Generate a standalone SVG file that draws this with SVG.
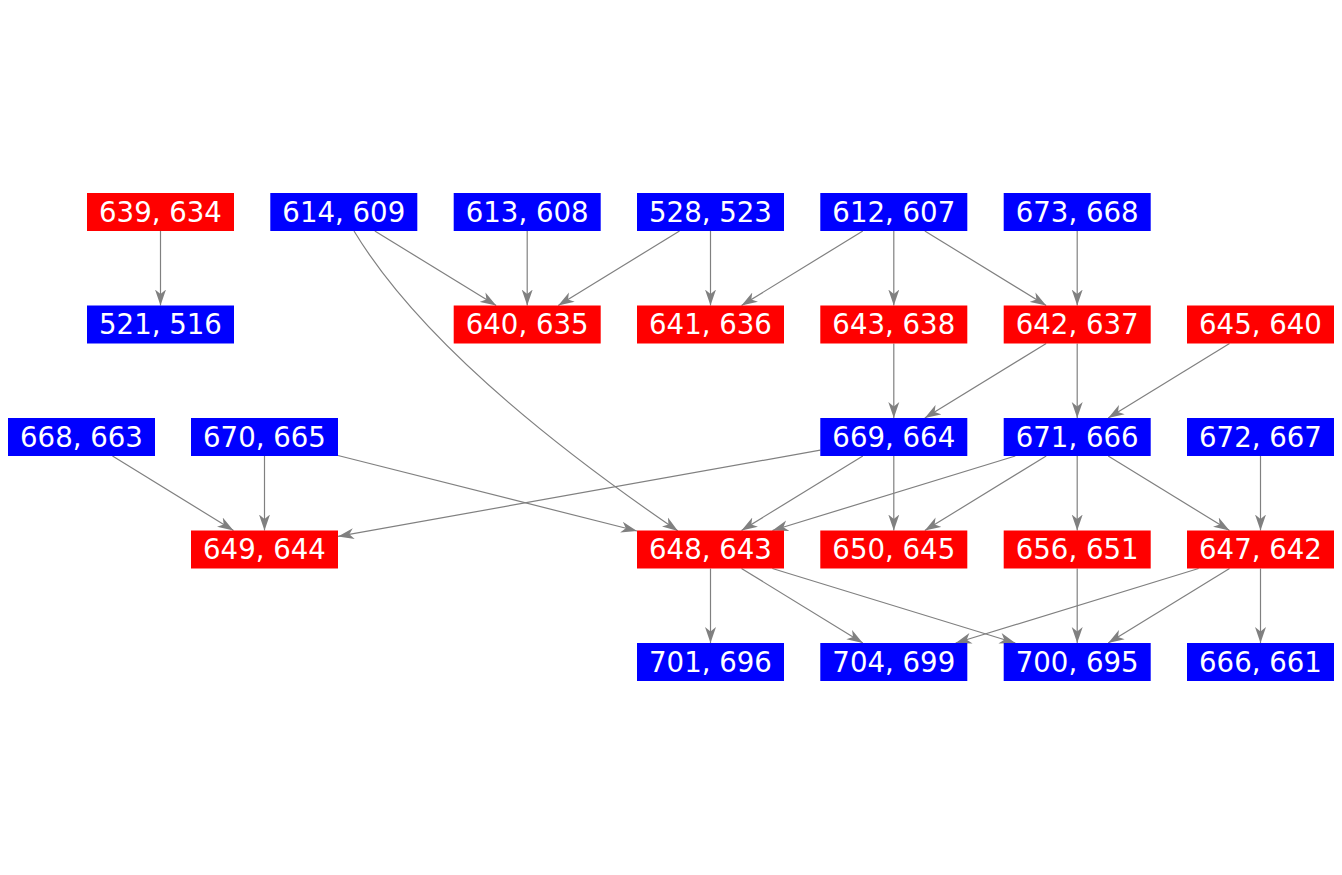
<svg xmlns="http://www.w3.org/2000/svg" width="1342" height="875" viewBox="0 0 1342 875">
<style>
.r{fill:#ff0000}
.b{fill:#0000ff}
text{font-family:"DejaVu Sans",sans-serif;font-size:27.6px;fill:#ffffff;text-anchor:middle}
#edges path,#edges line{stroke:#808080;stroke-width:1.2;fill:none;marker-end:url(#ah)}
</style>
<defs>
<marker id="ah" markerUnits="userSpaceOnUse" markerWidth="17" markerHeight="12" refX="16" refY="6" orient="auto">
<path d="M0,0.5 L16,6 L0,11.5 L4.5,6 z" fill="#808080"/>
</marker>
</defs>
<rect width="1342" height="875" fill="#ffffff"/>
<g id="edges">
<line x1="160.5" y1="231" x2="160.5" y2="305.5"/>
<line x1="374.8" y1="231" x2="496.2" y2="305.5"/>
<line x1="527.2" y1="231" x2="527.2" y2="305.5"/>
<line x1="679.5" y1="231" x2="558.2" y2="305.5"/>
<line x1="710.5" y1="231" x2="710.5" y2="305.5"/>
<line x1="862.8" y1="231" x2="741.5" y2="305.5"/>
<line x1="893.8" y1="231" x2="893.8" y2="305.5"/>
<line x1="924.8" y1="231" x2="1046.2" y2="305.5"/>
<line x1="1077.2" y1="231" x2="1077.2" y2="305.5"/>
<line x1="893.8" y1="343.5" x2="893.8" y2="418"/>
<line x1="1046.2" y1="343.5" x2="924.8" y2="418"/>
<line x1="1077.2" y1="343.5" x2="1077.2" y2="418"/>
<line x1="1229.5" y1="343.5" x2="1108.2" y2="418"/>
<line x1="112.5" y1="456" x2="233.5" y2="530.5"/>
<line x1="264.5" y1="456" x2="264.5" y2="530.5"/>
<line x1="338" y1="455.5" x2="637" y2="531"/>
<line x1="820.3" y1="450.1" x2="338" y2="536.4"/>
<line x1="862.8" y1="456" x2="741.5" y2="530.5"/>
<line x1="893.8" y1="456" x2="893.8" y2="530.5"/>
<line x1="1015.3" y1="456" x2="772.4" y2="530.5"/>
<line x1="1046.2" y1="456" x2="924.8" y2="530.5"/>
<line x1="1077.2" y1="456" x2="1077.2" y2="530.5"/>
<line x1="1108.2" y1="456" x2="1229.5" y2="530.5"/>
<line x1="1260.5" y1="456" x2="1260.5" y2="530.5"/>
<line x1="710.5" y1="568.5" x2="710.5" y2="643"/>
<line x1="741.5" y1="568.5" x2="862.8" y2="643"/>
<line x1="772.4" y1="568.5" x2="1015.3" y2="643"/>
<line x1="1077.2" y1="568.5" x2="1077.2" y2="643"/>
<line x1="1198.6" y1="568.5" x2="955.7" y2="643"/>
<line x1="1229.5" y1="568.5" x2="1108.2" y2="643"/>
<line x1="1260.5" y1="568.5" x2="1260.5" y2="643"/>
<path d="M354,231 Q435,365 678,531"/>
</g>
<g id="n639"><rect class="r" x="87" y="193" width="147" height="38"/><text x="160.5" y="221.7">639, 634</text></g>
<g id="n614"><rect class="b" x="270.3" y="193" width="147" height="38"/><text x="343.8" y="221.7">614, 609</text></g>
<g id="n613"><rect class="b" x="453.7" y="193" width="147" height="38"/><text x="527.2" y="221.7">613, 608</text></g>
<g id="n528"><rect class="b" x="637" y="193" width="147" height="38"/><text x="710.5" y="221.7">528, 523</text></g>
<g id="n612"><rect class="b" x="820.3" y="193" width="147" height="38"/><text x="893.8" y="221.7">612, 607</text></g>
<g id="n673"><rect class="b" x="1003.7" y="193" width="147" height="38"/><text x="1077.2" y="221.7">673, 668</text></g>
<g id="n521"><rect class="b" x="87" y="305.5" width="147" height="38"/><text x="160.5" y="334.2">521, 516</text></g>
<g id="n640"><rect class="r" x="453.7" y="305.5" width="147" height="38"/><text x="527.2" y="334.2">640, 635</text></g>
<g id="n641"><rect class="r" x="637" y="305.5" width="147" height="38"/><text x="710.5" y="334.2">641, 636</text></g>
<g id="n643"><rect class="r" x="820.3" y="305.5" width="147" height="38"/><text x="893.8" y="334.2">643, 638</text></g>
<g id="n642"><rect class="r" x="1003.7" y="305.5" width="147" height="38"/><text x="1077.2" y="334.2">642, 637</text></g>
<g id="n645"><rect class="r" x="1187" y="305.5" width="147" height="38"/><text x="1260.5" y="334.2">645, 640</text></g>
<g id="n668"><rect class="b" x="8" y="418" width="147" height="38"/><text x="81.5" y="446.7">668, 663</text></g>
<g id="n670"><rect class="b" x="191" y="418" width="147" height="38"/><text x="264.5" y="446.7">670, 665</text></g>
<g id="n669"><rect class="b" x="820.3" y="418" width="147" height="38"/><text x="893.8" y="446.7">669, 664</text></g>
<g id="n671"><rect class="b" x="1003.7" y="418" width="147" height="38"/><text x="1077.2" y="446.7">671, 666</text></g>
<g id="n672"><rect class="b" x="1187" y="418" width="147" height="38"/><text x="1260.5" y="446.7">672, 667</text></g>
<g id="n649"><rect class="r" x="191" y="530.5" width="147" height="38"/><text x="264.5" y="559.2">649, 644</text></g>
<g id="n648"><rect class="r" x="637" y="530.5" width="147" height="38"/><text x="710.5" y="559.2">648, 643</text></g>
<g id="n650"><rect class="r" x="820.3" y="530.5" width="147" height="38"/><text x="893.8" y="559.2">650, 645</text></g>
<g id="n656"><rect class="r" x="1003.7" y="530.5" width="147" height="38"/><text x="1077.2" y="559.2">656, 651</text></g>
<g id="n647"><rect class="r" x="1187" y="530.5" width="147" height="38"/><text x="1260.5" y="559.2">647, 642</text></g>
<g id="n701"><rect class="b" x="637" y="643" width="147" height="38"/><text x="710.5" y="671.7">701, 696</text></g>
<g id="n704"><rect class="b" x="820.3" y="643" width="147" height="38"/><text x="893.8" y="671.7">704, 699</text></g>
<g id="n700"><rect class="b" x="1003.7" y="643" width="147" height="38"/><text x="1077.2" y="671.7">700, 695</text></g>
<g id="n666"><rect class="b" x="1187" y="643" width="147" height="38"/><text x="1260.5" y="671.7">666, 661</text></g>
</svg>
